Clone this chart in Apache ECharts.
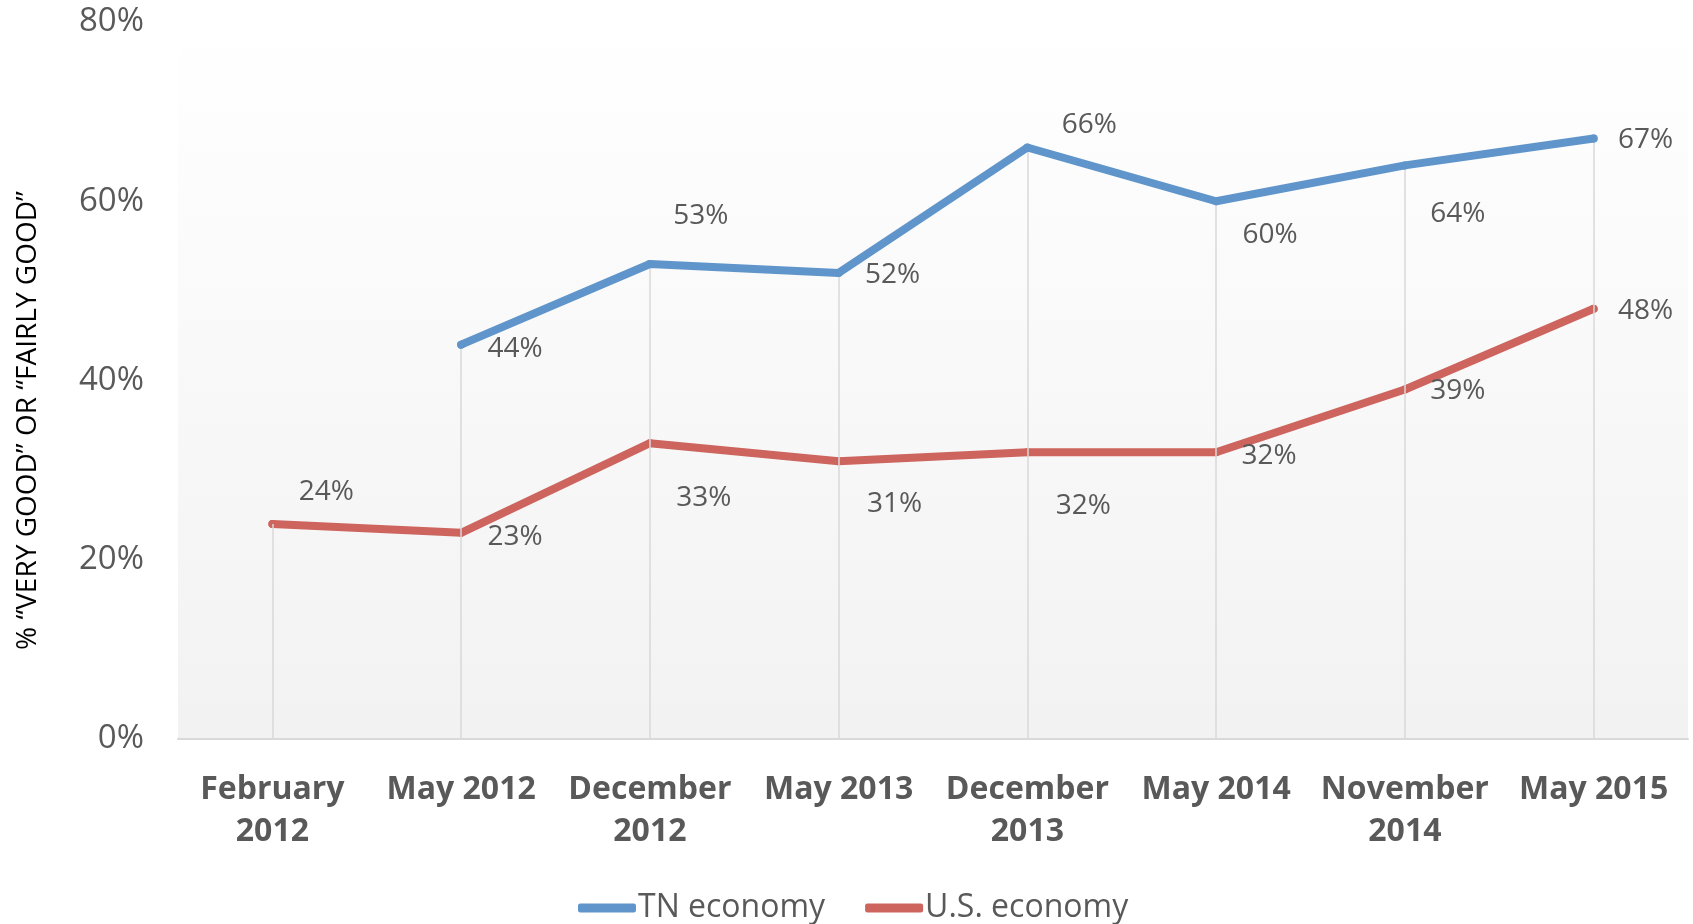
<!DOCTYPE html>
<html>
<head>
<meta charset="utf-8">
<script src="https://cdn.jsdelivr.net/npm/echarts@6/dist/echarts.min.js"></script>
<style>html,body{margin:0;padding:0;background:#fff}#c{width:1693px;height:924px}</style>
</head>
<body>
<div id="c"></div>
<script>
const categories = ['February\n2012', 'May 2012', 'December\n2012', 'May 2013', 'December\n2013', 'May 2014', 'November\n2014', 'May 2015'];
const tnEconomy = [null, 44, 53, 52, 66, 60, 64, 67];
const usEconomy = [24, 23, 33, 31, 32, 32, 39, 48];
const yTicks = [0, 20, 40, 60, 80];

// label placement (style only)
const tnLabelOffsets = [[0,0],[54,4],[51,-48],[54,2],[62,-22],[54,34],[53,49],[52,2]];
const usLabelOffsets = [[54,-32],[54,4],[54,55],[56,43],[56,54],[53,4],[53,2],[52,2]];

const FONT = '"Open Sans", "Noto Sans", sans-serif';
const TXT = '#595959';
const BLUE = '#5f95cb';
const RED = '#cd645e';

function buildData(vals, offs) {
  return vals.map((v, i) => ({
    value: v,
    label: { offset: offs[i] }
  }));
}

const dropLines = categories.map((c, i) => {
  const vals = [tnEconomy[i], usEconomy[i]].filter(v => v != null);
  return [{ xAxis: i, yAxis: 0 }, { xAxis: i, yAxis: Math.max(...vals) }];
});

const chart = echarts.init(document.getElementById('c'), null, { renderer: 'canvas' });
chart.setOption({
  animation: false,
  backgroundColor: '#ffffff',
  grid: {
    left: 178, right: 5, top: 22, bottom: 185,
    show: true, borderWidth: 0,
    backgroundColor: new echarts.graphic.LinearGradient(0, 0, 0, 1, [
      { offset: 0, color: '#ffffff' },
      { offset: 1, color: '#f2f2f2' }
    ])
  },
  xAxis: {
    type: 'category',
    data: categories,
    boundaryGap: true,
    axisLine: { show: true, lineStyle: { color: '#d9d9d9', width: 2 } },
    axisTick: { show: false },
    splitLine: { show: false },
    axisLabel: {
      interval: 0, margin: 30,
      fontFamily: FONT, fontSize: 32, fontWeight: 'bold', color: TXT, lineHeight: 42
    }
  },
  yAxis: {
    type: 'value', min: 0, max: 80, interval: 20,
    axisLine: { show: false }, axisTick: { show: false },
    splitLine: { show: false },
    axisLabel: {
      margin: 34, fontFamily: FONT, fontSize: 33, color: TXT,
      formatter: v => v + '%'
    }
  },
  legend: {
    top: 892, left: 578, padding: 0,
    itemWidth: 58, itemHeight: 9, itemGap: 40,
    icon: 'roundRect',
    textStyle: { fontFamily: FONT, fontSize: 32, color: TXT, padding: [0, 0, 0, -3] },
    data: ['TN economy', 'U.S. economy']
  },
  graphic: [{
    type: 'text',
    rotation: Math.PI / 2,
    style: {
      text: '% \u201cVERY GOOD\u201d OR \u201cFAIRLY GOOD\u201d',
      fontFamily: FONT, fontSize: 28, fill: '#000000'
    },
    x: 14, y: 650
  }],
  series: [
    {
      name: 'TN economy', type: 'line',
      data: buildData(tnEconomy, tnLabelOffsets),
      symbol: 'circle', symbolSize: 8, showSymbol: true,
      itemStyle: { color: BLUE },
      lineStyle: { color: BLUE, width: 8, cap: 'round', join: 'round' },
      label: {
        show: true, position: 'inside', align: 'center', verticalAlign: 'middle',
        fontFamily: FONT, fontSize: 28, color: TXT,
        formatter: p => p.value + '%'
      },
      z: 5
    },
    {
      name: 'U.S. economy', type: 'line',
      data: buildData(usEconomy, usLabelOffsets),
      symbol: 'circle', symbolSize: 8, showSymbol: true,
      itemStyle: { color: RED },
      lineStyle: { color: RED, width: 8, cap: 'round', join: 'round' },
      label: {
        show: true, position: 'inside', align: 'center', verticalAlign: 'middle',
        fontFamily: FONT, fontSize: 28, color: TXT,
        formatter: p => p.value + '%'
      },
      markLine: {
        silent: true, symbol: ['none', 'none'],
        lineStyle: { color: '#d9d9d9', width: 1.5, type: 'solid' },
        label: { show: false },
        data: dropLines
      },
      z: 4
    }
  ]
});
</script>
</body>
</html>
